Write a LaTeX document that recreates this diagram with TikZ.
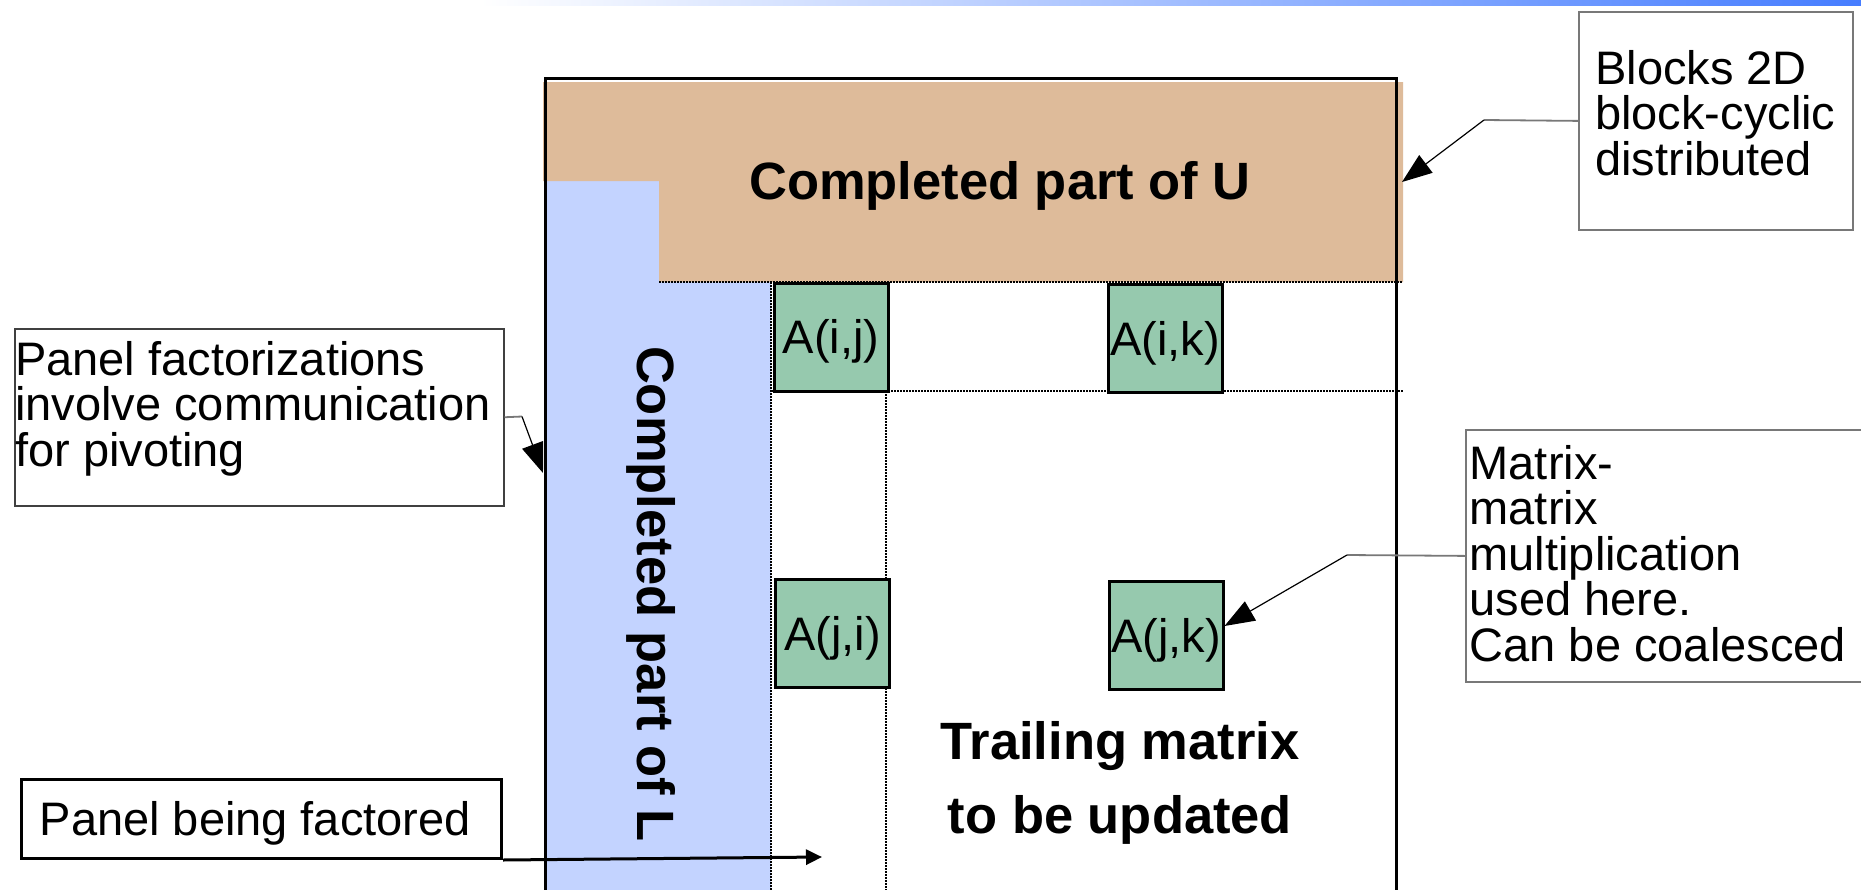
\documentclass[tikz,border=0pt]{standalone}
\usepackage{fontspec}
\setmainfont{Liberation Sans}
\usetikzlibrary{arrows.meta}
\definecolor{tanU}{RGB}{222,187,154}
\definecolor{blueL}{RGB}{195,211,255}
\definecolor{greenA}{RGB}{150,201,174}
\definecolor{barblue}{RGB}{70,125,255}
\definecolor{linkgray}{RGB}{120,120,120}
\begin{document}
\begin{tikzpicture}[x=1pt,y=-1pt,
  ablock/.style={draw=black, line width=3pt, fill=greenA, inner sep=0pt,
    minimum width=114pt, minimum height=108pt, text height=33.6pt, text depth=0pt,
    font=\fontsize{47}{47}\selectfont},
  note/.style={draw=linkgray, line width=1.8pt, fill=white, inner sep=0pt, anchor=north west},
  notetext/.style={inner sep=0pt, anchor=base west, font=\fontsize{47}{45.5}\selectfont},
  bigtext/.style={inner sep=0pt, anchor=base, font=\fontsize{52.5}{52.5}\selectfont\bfseries},
  dotline/.style={line width=1.5pt, dash pattern=on 1.5pt off 1.5pt},
  linkh/.style={draw=linkgray, line width=1.8pt},
  linkd/.style={draw=black, line width=1.2pt, -{Triangle[length=30pt,width=22pt]}},
]
\useasboundingbox (0,0) rectangle (1861,889);
\clip (0,0) rectangle (1861,889);
\fill[white] (0,0) rectangle (1861,889);
% top gradient bar
\shade[left color=white, right color=barblue] (480,0) rectangle (1861,5);

% completed part of L (blue) and U (tan)
\fill[blueL] (546,181) rectangle (771,895);
\fill[tanU] (543,82) -- (1403,82) -- (1403,282) -- (659,282) -- (659,181) -- (543,181) -- cycle;

% dotted block grid
\draw[dotline] (659,282) -- (1403,282);
\draw[dotline] (771,391) -- (1403,391);
\draw[dotline] (771,282) -- (771,895);
\draw[dotline] (886,391) -- (886,895);

% matrix outline
\draw[line width=3pt] (545,895) -- (545,78.5) -- (1396,78.5) -- (1396,895);

% texts inside the matrix
\node[bigtext] (utext) at (1000,199) {Completed part of U};
\node[bigtext, rotate=-90] (ltext) at (637,594) {Completed part of L};
\node[bigtext] (trail) at (1120,759) {\vtop{\baselineskip=74pt
  \hbox to 0pt{\hss Trailing matrix\hss}\hbox to 0pt{\hss to be updated\hss}}};

% blocks
\node[ablock] (aij) at (831,337) {A(i,j)};
\node[ablock] (aik) at (1165,338.5) {A(i,k)};
\node[ablock] (aji) at (832.5,633.5) {A(j,i)};
\node[ablock] (ajk) at (1166,635.5) {A(j,k)};

% annotation boxes
\node[note, minimum width=274pt, minimum height=218pt] (blocks) at (1578,11) {};
\node[notetext] (blockstxt) at (1595,84) {\vtop{\hbox{Blocks 2D}\hbox{block-cyclic}\hbox{distributed}}};

\node[note, draw=black!75, line width=1.5pt, minimum width=489pt, minimum height=177pt] (pfact) at (14,328) {};
\node[notetext] (pfacttxt) at (15,375) {\vtop{\hbox{Panel factorizations}\hbox{involve communication}\hbox{for pivoting}}};

\node[note, minimum width=440pt, minimum height=252pt] (mm) at (1465,429) {};
\node[notetext] (mmtxt) at (1469.5,479) {\vtop{\hbox{Matrix-}\hbox{matrix}\hbox{multiplication}\hbox{used here.}\hbox{Can be coalesced}}};

\node[note, draw=black, line width=3pt, minimum width=480pt, minimum height=79pt] (pbf) at (20,778) {};
\node[notetext] (pbftxt) at (39.5,835) {Panel being factored};

% connectors
\coordinate (bendB) at (1484,120);
\coordinate (tipB) at (1402,182);
\draw[linkh] (blocks.west) -- (bendB);
\draw[linkd] (bendB) -- (tipB);

\coordinate (bendP) at (522,416.5);
\coordinate (tipP) at (543,473);
\draw[linkh] (pfact.east) -- (bendP);
\draw[linkd] (bendP) -- (tipP);

\coordinate (bendM) at (1347,555);
\draw[linkh] (mm.west) -- (bendM);
\draw[linkd] (bendM) -- (ajk.east |- 0,626);

\coordinate (tipF) at (822,857);
\draw[line width=3pt, -{Triangle[length=16pt,width=15pt]}] (pbf.south east) -- (tipF);
\end{tikzpicture}
\end{document}
